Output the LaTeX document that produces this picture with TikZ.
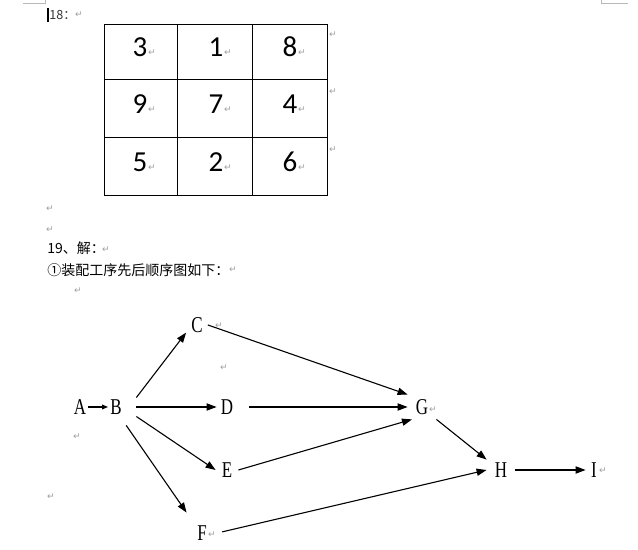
\documentclass[tikz,border=0pt]{standalone}
\usepackage{fontspec}
\setmainfont{Liberation Serif}
\newfontfamily\cjkfont{Noto Sans CJK SC}
\newfontfamily\digitfont{Carlito}
\newfontfamily\letterfont[FakeStretch=0.75]{Liberation Serif}
\newfontfamily\markfont{DejaVu Sans}
\usetikzlibrary{arrows.meta}
\tikzset{%
  cell/.style  = {font=\digitfont\fontsize{14.5}{15}\selectfont, inner sep=0pt},%
  task/.style  = {font=\letterfont\fontsize{11.3}{12}\selectfont, inner sep=0pt,%
                  minimum width=10pt, minimum height=10pt},%
  note/.style  = {font=\cjkfont\fontsize{7}{8}\selectfont, inner sep=0pt, anchor=west},%
  pmark/.style = {font=\markfont\fontsize{4.6}{5}\selectfont, text=gray!75, inner sep=0pt},%
  link/.style  = {-{Triangle[length=5pt,width=3.6pt]}, line width=0.55pt},%
  edge mark/.style = {gray!55, line width=0.4pt}%
}
\begin{document}
\begin{tikzpicture}[x=0.5pt, y=-0.5pt]%
	\useasboundingbox (0,0) rectangle (638,550);%
	% page corners and cursor
	\draw[edge mark] (23,3) -- (45,3) -- (45,0);%
	\draw[edge mark] (601,0) -- (601,3) -- (628,3);%
	\draw[line width=1pt] (48,8) -- (48,22);%
	\node[note, font=\cjkfont\fontsize{6.3}{7}\selectfont, text=black!80] (q18) at (49,15) {18：};%
	% the square
	\draw[line width=0.5pt] (104,25) rectangle (327,196);%
	\foreach \x in {177,252} \draw[line width=0.5pt] (\x,25) -- (\x,196);%
	\foreach \y in {80,138} \draw[line width=0.5pt] (104,\y) -- (327,\y);%
	\foreach \d/\x/\y in {3/140/47, 1/216/47, 8/290/47,%
	                      9/140/104, 7/216/104, 4/290/104,%
	                      5/140/162, 2/216/162, 6/290/162}%
		\node[cell] (n\d) at (\x,\y) {\d};%
	% text lines
	\node[note] (q19) at (47,248) {19、解：};%
	\node[note] (title) at (47,270) {①装配工序先后顺序图如下：};%
	% the order graph
	\node[task, minimum width=8pt] (A) at (80,407) {A};%
	\node[task, minimum width=20pt, minimum height=18pt] (B) at (116,407) {B};%
	\node[task, minimum width=10.5pt] (C) at (197,325) {C};%
	\node[task] (D) at (227,407) {D};%
	\node[task, minimum width=11pt] (E) at (227,470) {E};%
	\node[task, minimum width=15pt, minimum height=20pt] (F) at (202,533) {F};%
	\node[task, minimum width=14pt, minimum height=12pt] (G) at (422,407) {G};%
	\node[task, minimum width=14pt] (H) at (501,470) {H};%
	\node[task, minimum width=8pt] (I) at (594,470) {I};%
	\draw[line width=0.55pt, -{Triangle[length=3pt,width=2.4pt]}, shorten >=4pt] (A.east) -- (B.center);%
	\draw[link] (B.25) -- (C.-145);%
	\draw[link] (B.east) -- (D.west);%
	\draw[link] (B.-25) -- (E.west);%
	\draw[link] (B.-61) -- (F.north west);%
	\draw[link] (C.east) -- (G.north west);%
	\draw[link, shorten <=6pt] (D.east) -- (G.west);%
	\draw[link] (E.east) -- (G.-129);%
	\draw[link, shorten <=2.5pt] (F.east) -- (H.west);%
	\draw[link] (G.south east) -- (H.north west);%
	\draw[link] (H.east) -- (I.west);%
	% paragraph marks
	\foreach \x/\y [count=\k] in {79/15, 152/53, 228/53, 302/53, 152/110, 228/110, 302/110,%
	                             152/168, 228/168, 302/168, 333/35, 333/92, 333/150,%
	                             50/209, 50/230, 106/250, 233/270, 78/291, 219/326,%
	                             224/368, 77/437, 51/497, 212/535, 433/410, 603/471}%
		\node[pmark] (pm\k) at (\x,\y) {↵};%
\end{tikzpicture}
\end{document}
